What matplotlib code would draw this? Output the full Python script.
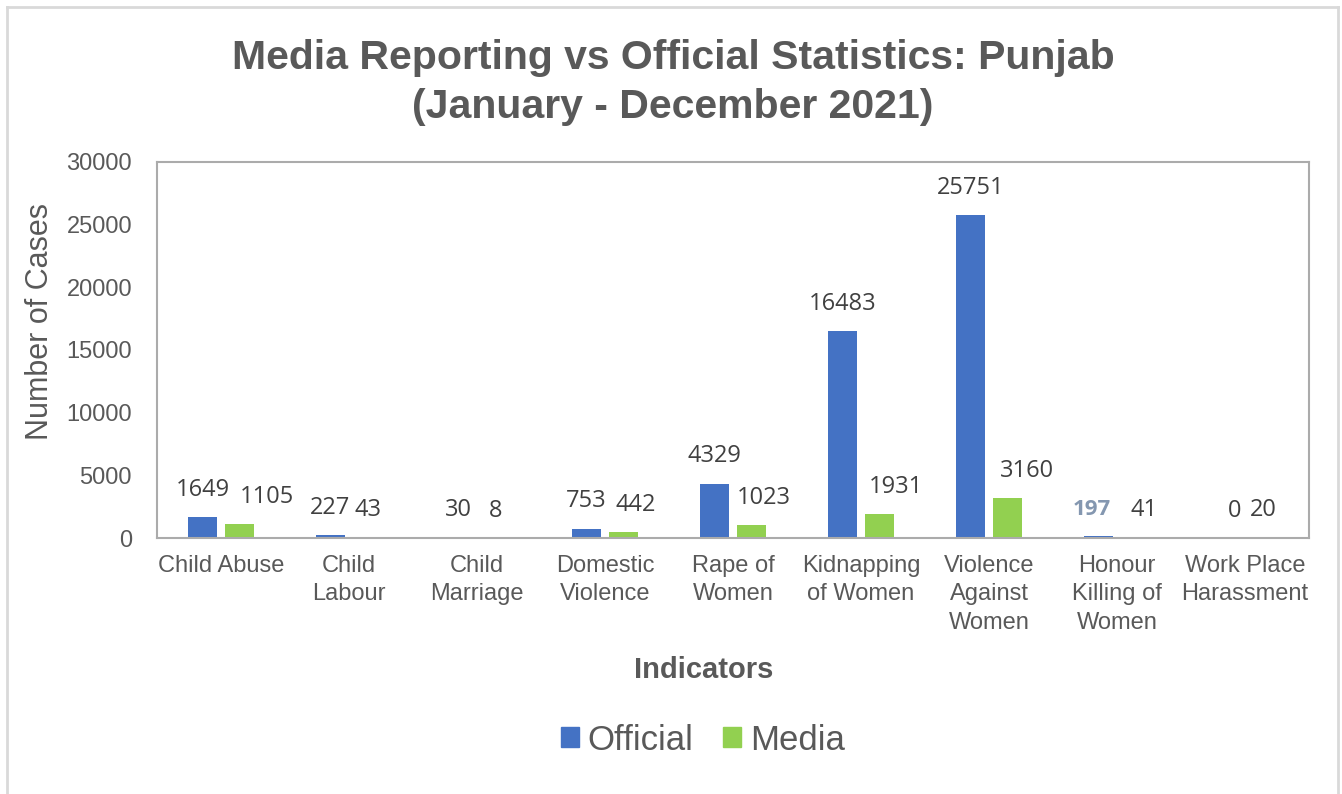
import numpy as np
import matplotlib.pyplot as plt
from matplotlib.patches import Patch
from matplotlib.lines import Line2D

indicators = ['Child Abuse', 'Child\nLabour', 'Child\nMarriage', 'Domestic\nViolence',
              'Rape of\nWomen', 'Kidnapping\nof Women', 'Violence\nAgainst\nWomen',
              'Honour\nKilling of\nWomen', 'Work Place\nHarassment']
official = [1649, 227, 30, 753, 4329, 16483, 25751, 197, 0]
media = [1105, 43, 8, 442, 1023, 1931, 3160, 41, 20]

# sideways nudges (points) for labels that were dragged off-centre
official_nudge = [0, 0, 0, 0, 0, 0, 0, -5, 6]
media_nudge = [20, 0, 0, 9, 9, 12, 14, 6, 0]

BLUE = '#4472C4'
GREEN = '#92D050'
GREY = '#595959'
LABEL = '#404040'
BASE = 'Liberation Sans'

fig = plt.figure(figsize=(13.42, 7.94), dpi=100)
ax = fig.add_axes([0.117, 0.3224, 0.8584, 0.4736])

x = np.arange(len(indicators))
w = 0.22
off = 0.145
b1 = ax.bar(x - off, official, w, color=BLUE, zorder=2)
b2 = ax.bar(x + off, media, w, color=GREEN, zorder=2)

ax.set_xlim(-0.5, len(indicators) - 0.5)
ax.set_ylim(0, 30000)
ax.set_yticks(np.arange(0, 30001, 5000))
ax.set_xticks(x)
ax.set_xticklabels(indicators, fontsize=17, family=BASE, color=GREY, linespacing=1.38)
for t in ax.get_yticklabels():
    t.set_fontsize(17)
    t.set_family(BASE)
    t.set_color(GREY)
ax.tick_params(axis='x', length=0, pad=12)
ax.tick_params(axis='y', length=0, pad=18)
for s in ax.spines.values():
    s.set_color('#ABABAB')
    s.set_linewidth(1.5)

# value labels above each bar
for rect, v, dx in zip(b1, official, official_nudge):
    special = (v == 197)
    ax.annotate(str(v), (rect.get_x() + rect.get_width() / 2, v),
                xytext=(dx, 11), textcoords='offset points', ha='center', va='bottom',
                fontsize=17 if not special else 16, family='Open Sans',
                fontweight='bold' if special else 'normal',
                color='#8497B0' if special else LABEL)
for rect, v, dx in zip(b2, media, media_nudge):
    ax.annotate(str(v), (rect.get_x() + rect.get_width() / 2, v),
                xytext=(dx, 11), textcoords='offset points', ha='center', va='bottom',
                fontsize=17, family='Open Sans', color=LABEL)

fig.text(0.5015, 0.8965, 'Media Reporting vs Official Statistics: Punjab\n(January - December 2021)',
         ha='center', va='center', fontsize=29.5, fontweight='bold', family=BASE,
         color=GREY, linespacing=1.36)
fig.text(40 / 1342, 1 - 321 / 794, 'Number of Cases', rotation=90, ha='center', va='center',
         fontsize=22, family=BASE, color=GREY)
fig.text(704 / 1342, 1 - 670 / 794, 'Indicators', ha='center', va='center',
         fontsize=21, fontweight='bold', family=BASE, color=GREY)

handles = [Patch(color=BLUE, label='Official'), Patch(color=GREEN, label='Media')]
fig.legend(handles=handles, loc='center', bbox_to_anchor=(703 / 1342, 1 - 740 / 794), ncol=2,
           frameon=False, prop={'family': BASE, 'size': 25}, labelcolor=GREY,
           handlelength=0.5, handleheight=0.5, handletextpad=0.26, columnspacing=0.86)

# chart area outline (left, top, right)
ox0, ox1, oy = 7 / 1342, 1338 / 1342, 1 - 7 / 794
for xs, ys in [([ox0, ox0], [0, oy]), ([ox0, ox1], [oy, oy]), ([ox1, ox1], [oy, 0])]:
    fig.add_artist(Line2D(xs, ys, transform=fig.transFigure, color='#D9D9D9', lw=2))

fig.savefig('out.png', dpi=100)
